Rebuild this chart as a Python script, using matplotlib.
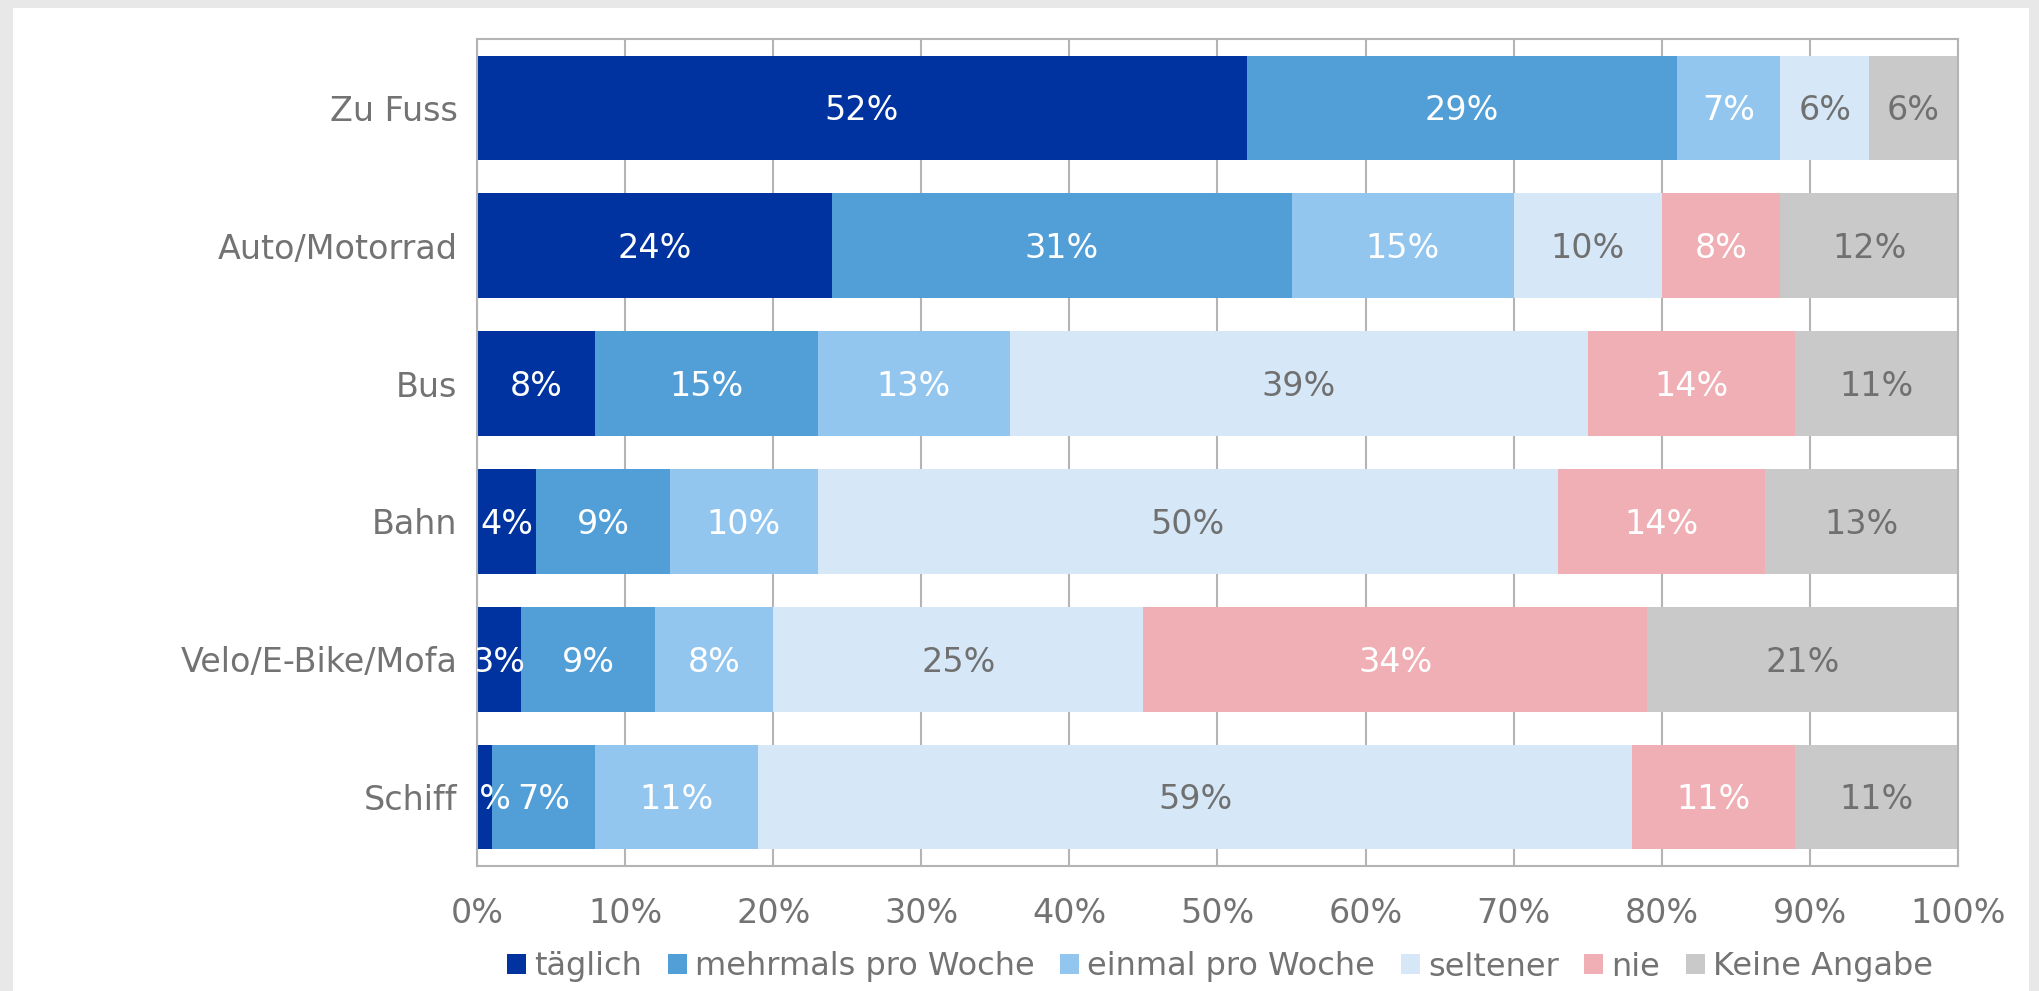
import matplotlib.pyplot as plt
from matplotlib.patches import Rectangle, Patch

plt.rcParams["font.family"] = ["DejaVu Sans"]

categories = ["Zu Fuss", "Auto/Motorrad", "Bus", "Bahn", "Velo/E-Bike/Mofa", "Schiff"]
series = ["täglich", "mehrmals pro Woche", "einmal pro Woche", "seltener", "nie", "Keine Angabe"]
taeglich = [52, 24, 8, 4, 3, 1]
mehrmals = [29, 31, 15, 9, 9, 7]
einmal = [7, 15, 13, 10, 8, 11]
seltener = [6, 10, 39, 50, 25, 59]
nie = [0, 8, 14, 14, 34, 11]
keine = [6, 12, 11, 13, 21, 11]

colors = ["#0033a0", "#529fd7", "#93c6ef", "#d6e8f7", "#f0afb5", "#c9c9c9"]
label_colors = ["white", "white", "white", "#707070", "white", "#707070"]
grey = "#737373"

fig = plt.figure(figsize=(20.4, 9.91), dpi=100)
fig.patch.set_facecolor("#e8e8e8")
fig.patches.append(Rectangle((13 / 2040, 0), 2016 / 2040, 1 - 8 / 991,
                             transform=fig.transFigure, facecolor="white",
                             edgecolor="none", zorder=-10))
ax = fig.add_axes([477 / 2040, 1 - 866 / 991, (1958 - 477) / 2040, (866 - 39) / 991])

y = list(range(len(categories)))[::-1]
left = [0] * len(categories)
for vals, name, c, lc in zip([taeglich, mehrmals, einmal, seltener, nie, keine],
                             series, colors, label_colors):
    ax.barh(y, vals, left=left, height=0.76, color=c, label=name, zorder=2)
    for yi, l, v in zip(y, left, vals):
        if v > 0:
            ax.text(l + v / 2, yi - 0.02, f"{v}%", ha="center", va="center",
                    fontsize=24, color=lc, zorder=3, clip_on=True)
    left = [a + b for a, b in zip(left, vals)]

ax.set_xlim(0, 100)
ax.set_ylim(-0.5, len(categories) - 0.5)
ax.set_xticks(range(0, 101, 10))
ax.set_xticklabels([f"{t}%" for t in range(0, 101, 10)])
ax.set_yticks(y)
ax.set_yticklabels(categories)
ax.tick_params(axis="both", length=0, labelsize=24, labelcolor=grey)
ax.tick_params(axis="x", pad=22)
ax.tick_params(axis="y", pad=14)
ax.grid(axis="x", color="#b4b4b4", linewidth=1.5, zorder=0)
ax.set_axisbelow(True)
for s in ax.spines.values():
    s.set_color("#b4b4b4")
    s.set_linewidth(1.5)

handles = [Patch(facecolor=c, edgecolor="none") for c in colors]
fig.legend(handles, series, loc="center", bbox_to_anchor=(1220 / 2040, 1 - 967 / 991),
           ncol=6, frameon=False, fontsize=23, labelcolor=grey,
           handlelength=0.6, handleheight=0.6, handletextpad=0.25, columnspacing=0.8,
           borderpad=0)

plt.savefig("out.png", dpi=100, facecolor=fig.get_facecolor())
